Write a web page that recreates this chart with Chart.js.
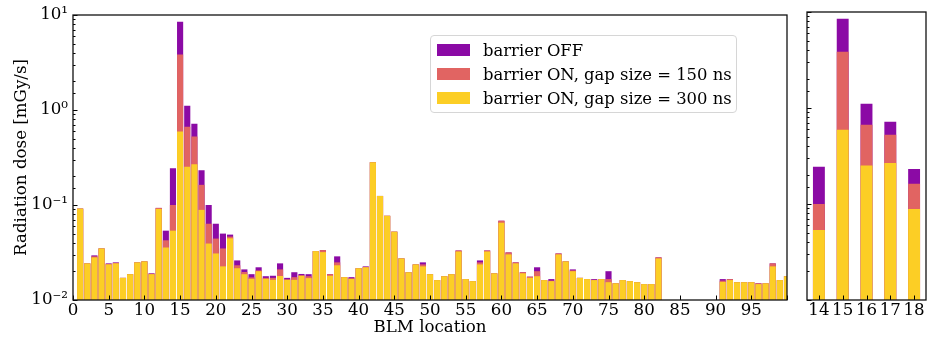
<!DOCTYPE html>
<html>
<head>
<meta charset="utf-8">
<script src="https://cdn.jsdelivr.net/npm/chart.js@4/dist/chart.umd.min.js"></script>
<style>
  body { margin: 0; background: #fff; width: 929px; height: 340px; position: relative; overflow: hidden; font-family: "DejaVu Serif", serif; }
  #main { position: absolute; left: 0; top: 0; width: 795px; height: 340px; }
  #zoom { position: absolute; left: 797px; top: 0; width: 132px; height: 340px; }
  #legend {
    position: absolute; left: 430px; top: 35px; width: 305px; height: 74px;
    padding: 2px 0 0 0; border: 1px solid #d6d6d6; border-radius: 4px;
    background: rgba(255, 255, 255, 0.8); font-size: 16.4px; color: #000;
  }
  #legend .row { height: 24px; display: flex; align-items: center; }
  #legend .sw { width: 33px; height: 12px; margin: 0 13px 0 6px; flex: none; }
</style>
</head>
<body>
<div id="main"><canvas id="mainChart"></canvas></div>
<div id="zoom"><canvas id="zoomChart"></canvas></div>
<div id="legend"></div>
<script>
// BLM locations 0..100 (no bar at 0 and at 83-90)
const locations = Array.from({ length: 101 }, (_, i) => i);

const seriesLabels = ["barrier OFF", "barrier ON, gap size = 150 ns", "barrier ON, gap size = 300 ns"];
const seriesColors = ["#8b0aa5", "#e16462", "#fcce25"];

// radiation dose [mGy/s]
const doseOff = [
  null, 0.0917, 0.0243, 0.0295, 0.0349, 0.0243, 0.0249, 0.0171, 0.0187, 0.0249,
  0.0255, 0.0191, 0.0932, 0.0537, 0.244, 8.51, 1.106, 0.718, 0.232, 0.100,
  0.0635, 0.0500, 0.0488, 0.0261, 0.0210, 0.0187, 0.0221, 0.0178, 0.0180, 0.0243,
  0.0171, 0.0196, 0.0188, 0.0187, 0.0327, 0.0335, 0.0187, 0.0288, 0.0174, 0.0174,
  0.0216, 0.0226, 0.281, 0.1245, 0.0770, 0.0524, 0.0274, 0.0196, 0.0237, 0.0249,
  0.0187, 0.0162, 0.0178, 0.0187, 0.0332, 0.0166, 0.0158, 0.0261, 0.0332, 0.0191,
  0.0683, 0.0317, 0.0249, 0.0196, 0.0176, 0.0221, 0.0162, 0.0166, 0.0309, 0.0255,
  0.0210, 0.0171, 0.0166, 0.0166, 0.0166, 0.0201, 0.0150, 0.0162, 0.0158, 0.0154,
  0.0147, 0.0147, 0.0281, null, null, null, null, null, null, null,
  null, 0.0166, 0.0166, 0.0154, 0.0154, 0.0154, 0.0150, 0.0150, 0.0243, 0.0162,
  0.0178
];
const dose150 = [
  null, 0.0917, 0.0243, 0.0288, 0.0349, 0.0240, 0.0246, 0.0171, 0.0187, 0.0249,
  0.0255, 0.0189, 0.0932, 0.0425, 0.100, 3.85, 0.668, 0.526, 0.163, 0.0635,
  0.0443, 0.0349, 0.0465, 0.0232, 0.0197, 0.0173, 0.0205, 0.0171, 0.0171, 0.0210,
  0.0165, 0.0174, 0.0182, 0.0178, 0.0327, 0.0335, 0.0187, 0.0249, 0.0174, 0.0169,
  0.0216, 0.0223, 0.281, 0.1245, 0.0770, 0.0524, 0.0274, 0.0196, 0.0237, 0.0237,
  0.0187, 0.0162, 0.0178, 0.0187, 0.0332, 0.0166, 0.0158, 0.0249, 0.0332, 0.0191,
  0.0683, 0.0317, 0.0249, 0.0196, 0.0176, 0.0201, 0.0162, 0.0160, 0.0309, 0.0255,
  0.0205, 0.0171, 0.0166, 0.0163, 0.0166, 0.0166, 0.0150, 0.0162, 0.0158, 0.0154,
  0.0147, 0.0147, 0.0281, null, null, null, null, null, null, null,
  null, 0.0160, 0.0166, 0.0154, 0.0154, 0.0154, 0.0150, 0.0150, 0.0243, 0.0162,
  0.0178
];
const dose300 = [
  null, 0.0917, 0.0243, 0.0281, 0.0349, 0.0237, 0.0243, 0.0171, 0.0187, 0.0249,
  0.0255, 0.0187, 0.0910, 0.0357, 0.0537, 0.593, 0.252, 0.268, 0.0889, 0.0393,
  0.0309, 0.0226, 0.0446, 0.0216, 0.0187, 0.0167, 0.0201, 0.0167, 0.0163, 0.0179,
  0.0163, 0.0163, 0.0180, 0.0170, 0.0327, 0.0319, 0.0180, 0.0232, 0.0174, 0.0167,
  0.0216, 0.0221, 0.281, 0.1245, 0.0770, 0.0524, 0.0274, 0.0196, 0.0237, 0.0226,
  0.0187, 0.0162, 0.0178, 0.0187, 0.0324, 0.0166, 0.0158, 0.0237, 0.0324, 0.0191,
  0.0651, 0.0302, 0.0243, 0.0191, 0.0171, 0.0178, 0.0162, 0.0158, 0.0302, 0.0255,
  0.0201, 0.0171, 0.0166, 0.0162, 0.0166, 0.0154, 0.0150, 0.0162, 0.0158, 0.0154,
  0.0147, 0.0147, 0.0274, null, null, null, null, null, null, null,
  null, 0.0155, 0.0162, 0.0154, 0.0154, 0.0154, 0.0147, 0.0150, 0.0226, 0.0162,
  0.0178
];

// zoomed panel: locations 14-18
const zoomFrom = 14, zoomTo = 18;

const FONT = { family: "'DejaVu Serif', serif", size: 16.67 };
const SUP = { "-": "\u207b", "0": "\u2070", "1": "\u00b9", "2": "\u00b2", "3": "\u00b3" };

function powLabel(v) {
  const e = Math.log10(v);
  if (Math.abs(e - Math.round(e)) > 1e-6) return "";
  return "10" + String(Math.round(e)).split("").map((c) => SUP[c]).join("");
}

// matplotlib-like frame with ticks pointing inwards
const frameTicks = {
  id: "frameTicks",
  afterDatasetsDraw(chart, args, opts) {
    const { ctx, chartArea: a, scales } = chart;
    ctx.save();
    ctx.strokeStyle = "#000";
    ctx.lineWidth = 1;
    ctx.beginPath();
    scales.y.ticks.forEach((t) => {
      const y = Math.round(scales.y.getPixelForValue(t.value)) + 0.5;
      const len = powLabel(t.value) ? 4.5 : 2.5;
      ctx.moveTo(a.left, y);
      ctx.lineTo(a.left + len, y);
    });
    scales.x.ticks.forEach((t, i) => {
      if (!opts.xEvery || i % opts.xEvery === 0) {
        const x = Math.round(scales.x.getPixelForValue(i)) + 0.5;
        ctx.moveTo(x, a.bottom);
        ctx.lineTo(x, a.bottom - 4.5);
      }
    });
    ctx.stroke();
    ctx.lineWidth = 1.3;
    ctx.strokeStyle = "#111";
    ctx.strokeRect(a.left, a.top, a.right - a.left, a.bottom - a.top);
    ctx.restore();
  },
};

function makeDatasets(off, on150, on300, barPct) {
  // first dataset is drawn on top
  return [on300, on150, off].map((d, k) => ({
    label: seriesLabels[2 - k],
    data: d,
    backgroundColor: seriesColors[2 - k],
    borderWidth: 0,
    grouped: false,
    barPercentage: barPct,
    categoryPercentage: 1,
    clip: 0,
  }));
}

const yScale = (showLabels, width) => ({
  type: "logarithmic",
  min: 0.01,
  max: 10,
  grid: { display: false, drawTicks: false },
  border: { display: false },
  ticks: {
    display: showLabels,
    autoSkip: false,
    padding: 5,
    color: "#000",
    font: FONT,
    callback: (v) => powLabel(v),
  },
  title: {
    display: showLabels,
    text: "Radiation dose [mGy/s]",
    color: "#000",
    font: FONT,
    padding: { top: 12, bottom: 0 },
  },
  afterFit: (s) => { s.width = width; },
});

new Chart(document.getElementById("mainChart"), {
  type: "bar",
  data: { labels: locations, datasets: makeDatasets(doseOff, dose150, dose300, 0.86) },
  options: {
    responsive: true,
    maintainAspectRatio: false,
    animation: false,
    events: [],
    layout: { padding: { left: 0, right: 8, top: 12, bottom: 0 }, autoPadding: false },
    plugins: { legend: { display: false }, tooltip: { enabled: false }, frameTicks: { xEvery: 5 } },
    scales: {
      x: {
        offset: false,
        grid: { display: false, drawTicks: false },
        border: { display: false },
        ticks: {
          autoSkip: false,
          maxRotation: 0,
          padding: 1,
          color: "#000",
          font: FONT,
          callback: (v, i) => (i % 5 === 0 && i < 100 ? String(locations[i]) : ""),
        },
        title: { display: true, text: "BLM location", color: "#000", font: FONT, padding: { top: 0, bottom: 2 } },
        afterFit: (s) => { s.height = 40; },
      },
      y: yScale(true, 73),
    },
  },
  plugins: [frameTicks],
});

const sl = (arr) => arr.slice(zoomFrom, zoomTo + 1);

new Chart(document.getElementById("zoomChart"), {
  type: "bar",
  data: {
    labels: sl(locations).map(String),
    datasets: makeDatasets(sl(doseOff), sl(dose150), sl(dose300), 0.5),
  },
  options: {
    responsive: true,
    maintainAspectRatio: false,
    animation: false,
    events: [],
    layout: { padding: { left: 0, right: 3, top: 12, bottom: 0 }, autoPadding: false },
    plugins: { legend: { display: false }, tooltip: { enabled: false }, frameTicks: {} },
    scales: {
      x: {
        grid: { display: false, drawTicks: false },
        border: { display: false },
        ticks: { autoSkip: false, maxRotation: 0, padding: 1, color: "#000", font: FONT },
        afterFit: (s) => { s.height = 40; },
      },
      y: yScale(false, 10),
    },
  },
  plugins: [frameTicks],
});

// legend box inside the main panel
const legend = document.getElementById("legend");
seriesLabels.forEach((lab, i) => {
  const row = document.createElement("div");
  row.className = "row";
  row.innerHTML = `<span class="sw" style="background:${seriesColors[i]}"></span><span>${lab}</span>`;
  legend.appendChild(row);
});
</script>
</body>
</html>
